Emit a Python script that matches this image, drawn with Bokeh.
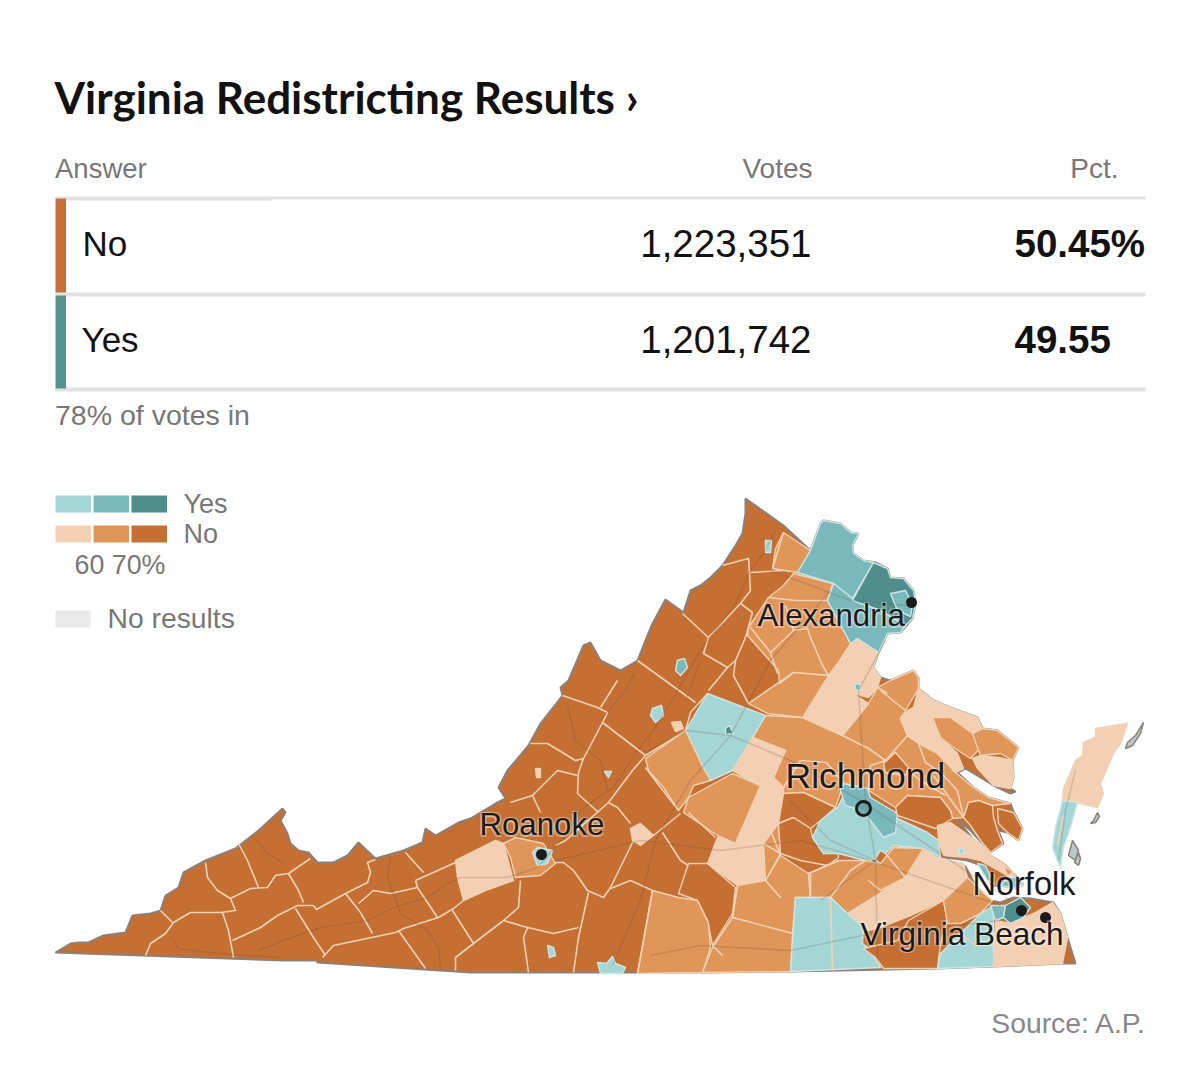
from bokeh.plotting import figure
from bokeh.models import Range1d, ColumnDataSource
from bokeh.core.properties import value
from bokeh.embed import file_html
from bokeh.resources import INLINE

# ---------- table values ----------
TITLE = "Virginia Redistricting Results ›"
ANSWERS = ["No", "Yes"]
VOTES = ["1,223,351", "1,201,742"]
PCTS = ["50.45%", "49.55"]
REPORTING = "78% of votes in"
SOURCE = "Source: A.P."

# ---------- map geometry ----------
STATE = [(55,952),(70,943),(78,942),(88,942),(103,935),(125,932),(132,915),(150,913),(160,910),(165,895),(178,887),(183,872),(205,860),(235,848),(258,830),(282,808),(285,812),(280,820),(287,833),(290,843),(298,850),(308,852),(317,862),(333,862),(347,855),(358,842),(375,858),(403,850),(422,842),(425,828),(435,835),(458,822),(470,818),(495,803),(505,798),(498,787),(507,770),(528,745),(540,723),(562,695),(560,687),(568,680),(583,645),(590,642),(600,660),(620,670),(637,660),(645,640),(652,623),(665,599),(683,612),(690,590),(700,585),(710,577),(722,565),(735,545),(742,533),(745,513),(745,498),(783,525),(810,550),(820,523),(823,520),(840,523),(850,532),(858,533),(852,545),(853,553),(863,560),(875,562),(887,568),(890,577),(903,578),(913,590),(915,603),(912,618),(900,632),(887,633),(878,652),(873,667),(880,677),(890,680),(913,670),(918,677),(918,688),(933,700),(950,707),(977,717),(982,728),(997,730),(1018,747),(1012,760),(1013,777),(1010,788),(1015,791),(1010,793),(993,785),(980,777),(965,768),(957,772),(973,787),(988,797),(1010,803),(1013,811),(1022,828),(1018,840),(1007,832),(998,830),(1003,843),(990,852),(970,830),(955,817),(972,838),(985,852),(1003,863),(1017,877),(1023,884),(1015,888),(1000,885),(992,886),(978,864),(967,860),(953,858),(927,855),(953,862),(965,866),(975,885),(990,900),(1000,902),(1013,897),(1030,898),(1053,902),(1060,913),(1067,937),(1075,963),(1062,963),(993,966),(937,968),(790,971),(702,972),(573,972),(470,972),(317,962),(316,960),(283,960)]
EASTERN_ACCOMACK = [(1062,800),(1063,788),(1075,760),(1082,755),(1083,742),(1095,737),(1095,728),(1127,723),(1120,743),(1113,753),(1100,783),(1103,793),(1097,807),(1080,803)]
EASTERN_NORTHAMPTON = [(1062,800),(1077,802),(1070,827),(1063,847),(1060,868),(1052,847),(1055,827)]
TANGIER = [(1143,722),(1135,735),(1127,742),(1125,748),(1132,745),(1140,733)]
CHINCOTEAGUE = [(1097,812),(1093,820),(1090,823),(1095,822),(1099,816)]
BARRIER_A = [(1072,840),(1068,855),(1075,860),(1078,850)]
BARRIER_B = [(1078,852),(1074,862),(1078,865),(1080,858)]

CLARKE = [(783,532),(810,550),(797,572),(772,568),(775,548)]
PIEDMONT = [(793,573),(832,583),(827,600),(850,643),(838,662),(828,675),(793,672),(748,703),(779,683),(778,670),(747,635),(748,627),(768,597),(783,585)]
STAFFORD = [(838,662),(850,643),(857,638),(878,652),(873,667),(880,677),(877,687),(868,697),(853,693),(828,675)]
SPOTSYLVANIA = [(828,675),(853,693),(868,703),(842,735),(802,717)]
ORANGE = [(748,703),(793,672),(828,675),(802,717),(767,713)]
LOUDOUN = [(810,550),(820,523),(823,520),(840,523),(850,532),(858,533),(852,545),(853,553),(863,560),(873,562),(852,598),(833,583),(797,572)]
PRINCE_WILLIAM = [(833,583),(852,598),(873,605),(905,625),(900,632),(887,633),(878,652),(857,638),(850,643),(827,600)]
FAIRFAX = [(873,562),(887,568),(890,577),(903,578),(913,590),(915,603),(912,618),(905,625),(880,610),(852,600)]
ARLINGTON = [(890,593),(905,590),(912,604),(910,616),(897,610)]
ALBEMARLE = [(707,693),(765,715),(752,737),(732,770),(710,780),(703,768),(685,730)]
NELSON = [(645,758),(685,730),(703,768),(710,780),(693,785),(688,797),(678,810),(663,787),(648,770)]
BUCKINGHAM = [(688,797),(710,785),(732,773),(760,785),(735,843),(717,835),(683,812)]
FLUVANNA = [(732,770),(752,737),(785,750),(773,777),(762,787)]
POWHATAN = [(760,787),(773,777),(783,787),(778,823),(763,843),(735,843)]
NOTTOWAY = [(717,837),(735,843),(763,843),(765,880),(737,885),(707,863)]
LUNENBURG = [(737,885),(765,880),(780,855),(808,873),(810,897),(795,897),(792,933),(732,917)]
AMELIA_EAST = [(763,843),(778,823),(780,853),(765,880)]
CHARLOTTE = [(688,863),(707,863),(735,887),(732,913),(712,945),(707,920),(697,900),(678,893)]
HALIFAX = [(652,890),(678,897),(697,900),(708,923),(710,947),(702,972),(637,973)]
MECKLENBURG = [(732,917),(792,933),(790,971),(702,972),(712,947)]
LYNCHBURG = [(630,828),(640,823),(653,835),(640,845),(632,840)]
MONTGOMERY = [(455,860),(495,840),(503,843),(513,880),(485,890),(463,900),(457,877)]
ROANOKE_CO = [(503,843),(515,837),(543,843),(555,863),(540,875),(515,877),(510,857)]
ROANOKE_CITY = [(532,852),(537,847),(552,850),(547,863),(537,865)]
MARTINSVILLE = [(547,945),(553,947),(555,955),(549,957)]
DANVILLE = [(597,962),(606,963),(612,956),(615,963),(625,967),(622,973),(600,973)]
STAUNTON = [(652,708),(661,705),(663,715),(655,722),(650,715)]
HARRISONBURG = [(677,660),(684,658),(687,667),(680,675),(675,670)]
WINCHESTER = [(765,540),(771,540),(770,552),(765,552)]
LEXINGTON = [(604,771),(611,771),(608,777)]
WAYNESBORO = [(671,722),(680,721),(683,728),(675,731)]
COVINGTON = [(535,768),(540,768),(540,777),(536,777)]
FREDERICKSBURG = [(854,683),(860,684),(859,690),(855,689)]
CHARLOTTESVILLE = [(725,728),(729,725),(733,733),(725,734)]
CENTRAL = [(842,735),(868,703),(877,687),(890,680),(913,670),(918,677),(918,688),(905,710),(900,718),(907,735),(918,743),(937,753),(955,772),(973,787),(988,797),(1010,803),(992,805),(978,800),(968,802),(963,817),(952,818),(950,810),(940,797),(907,795),(895,807),(868,790),(843,783),(835,807),(803,792),(783,793),(783,787),(773,777),(785,750),(752,737),(765,715),(802,717)]
ESSEX = [(900,718),(913,707),(918,688),(933,700),(950,707),(977,717),(982,728),(972,733),(950,717),(932,717),(940,737),(957,753),(963,768),(955,772),(937,753),(918,743),(907,735)]
RICHMOND_CO = [(932,717),(950,717),(972,733),(980,747),(970,758),(950,745),(940,737)]
NORTHUMBERLAND = [(972,733),(982,728),(997,730),(1018,747),(1012,760),(1000,753),(980,755)]
LANCASTER = [(972,758),(980,755),(998,757),(1012,760),(1013,777),(1010,788),(993,785),(977,768)]
KING_WILLIAM = [(883,763),(895,752),(908,767),(905,775),(885,772)]
GOOCHLAND = [(783,793),(803,792),(835,807),(820,820),(810,828),(793,817),(778,823)]
AMELIA = [(778,823),(793,817),(810,828),(812,837),(823,853),(837,850),(838,857),(827,865),(800,860),(780,853)]
CHESTERFIELD = [(812,837),(820,820),(837,807),(843,795),(870,797),(897,818),(927,832),(938,840),(940,857),(923,848),(893,845),(885,853),(880,850),(875,858),(865,860),(838,853),(823,853)]
HENRICO = [(840,790),(843,783),(867,788),(870,797),(897,813),(895,832),(883,837),(870,820),(862,810),(845,805)]
PETERSBURG = [(867,863),(873,858),(880,863),(877,868),(868,867)]
NEW_KENT = [(895,807),(907,795),(940,797),(950,810),(952,818),(935,828),(897,815)]
DINWIDDIE = [(808,873),(838,860),(865,860),(880,863),(893,847),(923,848),(905,877),(847,913),(830,897),(810,897)]
SUSSEX = [(847,913),(905,877),(923,848),(937,857),(963,863),(967,877),(943,900),(910,915),(880,927),(868,930),(850,920)]
BRUNSWICK = [(795,897),(830,897),(847,913),(863,927),(862,943),(867,947),(880,967),(790,971)]
SOUTHAMPTON = [(863,948),(897,940),(908,920),(943,900),(947,920),(940,943),(937,968),(883,968),(875,957)]
ISLE_OF_WIGHT = [(943,900),(967,877),(980,890),(992,900),(980,913),(960,923),(947,923)]
SUFFOLK = [(937,968),(940,953),(960,933),(980,913),(993,905),(993,966)]
VIRGINIA_BEACH = [(993,966),(995,920),(1010,923),(1033,913),(1052,902),(1060,913),(1067,937),(1062,963)]
NORFOLK = [(1005,905),(1020,897),(1030,907),(1023,917),(1010,923),(1003,917)]
PORTSMOUTH = [(990,905),(1005,905),(1003,917),(995,920)]
JAMES_CITY = [(937,825),(950,822),(980,843),(993,857),(1003,863),(1015,875),(1010,877),(980,860),(967,857),(943,855),(938,840)]
NEWPORT_NEWS = [(977,863),(985,865),(993,883),(987,880)]
YORK_SPOT = [(958,848),(963,848),(964,853),(959,853)]
YORK = [(1003,865),(1013,872),(1007,875)]
HAMPTON = [(1008,877),(1017,877),(1023,884),(1015,888),(1000,885)]
GLOUCESTER = [(968,802),(978,800),(992,805),(993,817),(997,830),(1002,843),(990,852),(980,840),(970,825),(963,817)]
MATHEWS = [(997,808),(1013,812),(1022,828),(1018,840),(1007,832),(998,823)]

REGIONS = [
    (CENTRAL,"no2"),(CLARKE,"no2"),(PIEDMONT,"no2"),(STAFFORD,"no1"),(SPOTSYLVANIA,"no1"),(ORANGE,"no2"),
    (LOUDOUN,"yes2"),(PRINCE_WILLIAM,"yes2"),(FAIRFAX,"yes3"),(ARLINGTON,"yes2"),
    (ALBEMARLE,"yes1"),(NELSON,"no2"),(BUCKINGHAM,"no2"),(FLUVANNA,"no1"),(POWHATAN,"no1"),(NOTTOWAY,"no1"),
    (LUNENBURG,"no2"),(AMELIA_EAST,"no2"),(CHARLOTTE,"no3"),(HALIFAX,"no2"),(MECKLENBURG,"no2"),(LYNCHBURG,"no1"),
    (MONTGOMERY,"no1"),(ROANOKE_CO,"no2"),(ROANOKE_CITY,"yes1"),(MARTINSVILLE,"yes1"),(DANVILLE,"yes1"),
    (STAUNTON,"yes1"),(HARRISONBURG,"yes2"),(WINCHESTER,"yes1"),(LEXINGTON,"yes1"),(WAYNESBORO,"no1"),(COVINGTON,"no1"),
    (FREDERICKSBURG,"yes2"),(CHARLOTTESVILLE,"yes3"),(ESSEX,"no1"),(RICHMOND_CO,"no2"),(NORTHUMBERLAND,"no2"),(LANCASTER,"no1"),
    (KING_WILLIAM,"no3"),(GOOCHLAND,"no3"),(AMELIA,"no3"),(CHESTERFIELD,"yes1"),(HENRICO,"yes2"),(PETERSBURG,"yes3"),
    (NEW_KENT,"no3"),(DINWIDDIE,"no2"),(SUSSEX,"no1"),(BRUNSWICK,"yes1"),(SOUTHAMPTON,"no3"),(ISLE_OF_WIGHT,"no2"),
    (SUFFOLK,"yes1"),(VIRGINIA_BEACH,"no1"),(PORTSMOUTH,"yes2"),(NORFOLK,"yes3"),(JAMES_CITY,"no1"),(NEWPORT_NEWS,"yes2"),(YORK_SPOT,"yes1"),
    (YORK,"no2"),(HAMPTON,"yes2"),(GLOUCESTER,"no3"),(MATHEWS,"no3"),(EASTERN_ACCOMACK,"no1"),(EASTERN_NORTHAMPTON,"yes1"),
]

COUNTY_LINES = [
 [(238,843),(247,860),(258,887)],
 [(310,858),(288,873),(275,875),(267,887),(250,888),(230,898),(235,910),(220,912),(190,912),(173,922),(165,933),(150,943),(145,955)],
 [(205,862),(207,877),(217,890),(230,898)],[(160,910),(172,922)],[(222,912),(228,930),(233,957)],
 [(288,873),(298,890),(303,902)],
 [(232,940),(260,927),(277,915),(297,905),(313,905),(316,909),(345,893),(367,882),(370,872),(367,862),(375,859)],
 [(295,908),(313,937),(325,955)],
 [(322,957),(333,945),(395,932),(403,928),(438,917),(453,908),(463,900)],
 [(345,893),(360,912),(372,933)],[(358,903),(373,890),(390,893),(417,887),(437,917)],
 [(405,852),(423,872)],[(415,880),(417,887)],[(415,880),(455,862)],[(398,930),(425,968)],[(452,910),(473,943),(455,957),(455,970)],
 [(473,943),(503,920),(518,907),(520,880)],[(503,920),(527,927),(523,937),(528,972)],[(527,927),(553,933),(578,927)],
 [(555,862),(563,862),(573,870),(587,890),(603,897),(610,887),(633,840)],[(588,892),(578,937),(573,972)],
 [(610,888),(630,880),(652,890)],[(653,835),(680,813)],[(662,832),(680,860),(688,865)],[(688,812),(715,837)],
 [(555,845),(565,840),(608,802),(617,807),(630,823)],[(608,802),(632,770),(645,755)],[(645,767),(660,787),(678,810)],
 [(602,722),(645,755)],[(602,722),(583,758),(578,772),(577,793),(598,812)],
 [(583,758),(575,760),(547,743),(530,743)],[(577,775),(557,770),(532,795),(510,802)],[(532,795),(540,812)],
 [(562,695),(597,707),(607,712),(602,722)],[(600,707),(617,680)],[(637,660),(695,702)],
 [(682,613),(708,637),(703,653),(727,667),(708,690)],[(722,565),(748,558),(750,590),(740,603),(708,637)],[(740,603),(752,612)],
 [(750,572),(783,570)],[(783,532),(772,568)],[(745,637),(735,660),(727,667)],[(735,660),(733,675),(748,703)],
 [(645,755),(685,730),(690,712),(707,693)],[(752,612),(745,637)],
 [(750,627),(770,652),(793,630),(807,628),(810,637),(822,665),(828,675)],[(770,652),(777,673)],[(793,672),(779,683)],
 [(768,597),(795,600),(827,600)],[(793,630),(785,605)],
 [(857,700),(842,735)],[(826,762),(843,783)],[(842,735),(868,748),(885,760)],[(907,735),(885,760),(870,765),(868,790)],[(826,762),(800,760),(783,787)],
 [(908,770),(920,780),(945,795)],[(918,743),(925,762),(940,772),(957,790),(963,817)],[(887,693),(877,687)],[(913,707),(907,710),(900,718)],
 [(880,690),(905,710)],[(933,775),(963,817)],
 [(780,855),(770,830)],[(763,843),(780,853)],[(808,873),(838,860)],[(810,897),(810,873)],[(830,897),(850,870),(865,860)],[(885,853),(905,877)],[(868,880),(880,890),(905,877)],[(905,877),(925,885),(943,900)],
 [(830,897),(832,970)],[(780,897),(765,880)],[(732,917),(737,885)],[(652,890),(637,973)],[(712,945),(722,955)],[(1015,920),(1013,963)],[(1040,915),(1037,963)],[(960,933),(975,945),(993,945)],
 [(1073,770),(1090,800)],[(1063,815),(1057,845)],
]

ROADS = [
 [(258,950),(283,940),(317,928),(367,920),(393,907),(427,897),(447,883),(460,877),(507,877),(537,867),(563,837),(583,807),(613,787),(637,750),(653,730),(673,697),(700,650),(735,603),(750,570),(763,553),(775,530)],
 [(645,752),(685,730),(730,735),(790,760),(860,800),(950,860),(1010,900)],
 [(885,640),(858,690),(865,800),(875,860),(877,960)],
 [(555,860),(640,840),(720,850),(800,840),(870,860),(1000,905)],
 [(650,955),(700,945),(790,950),(862,935),(1000,920)],
 [(770,570),(850,600),(905,605)],
 [(612,965),(640,900),(655,840),(690,780),(730,735),(770,660),(830,590)],
 [(390,857),(387,877),(400,913),(427,930),(438,947),(440,970)],
 [(255,838),(267,853),(283,863)],[(172,937),(177,948),(217,953),(280,957)],
 [(567,705),(575,740),(600,760),(607,790)],[(634,672),(625,690),(600,720)],[(700,660),(685,700)],
 [(1075,770),(1065,810),(1058,860)],[(790,800),(830,840),(875,860)],[(820,900),(840,885),(875,860)],
]

CITIES = ["Alexandria", "Richmond", "Roanoke", "Norfolk", "Virginia Beach"]
CITY_DOTS = [(911,602),(541,854),(1021,910),(1045,917)]
CITY_RING = (863,808)
CITY_ANCHORS = [(757,627),(785,789),(479,836),(972,896),(860,945)]
CITY_SIZES = [31.2,35.5,31.2,32.5,31.6]

BIN_COLORS = {"yes1":"#a5d6d6","yes2":"#79b8bb","yes3":"#4f8e8c","no1":"#f3cfb3","no2":"#e09559","no3":"#c56f33"}
LEGEND_ROWS = [("Yes",["yes1","yes2","yes3"]),("No",["no1","no2","no3"])]
LEGEND_TICKS = "60 70%"
NO_RESULTS = "No results"

GRAY_TEXT, INK = "#777777", "#121212"
RULE, COAST, BOUND, ROAD = "#e2e2e2", "#8c8078", "#f1d2b4", "#6b4a35"
TEAL_BOUND = "#cde6e5"
SANS = "Liberation Sans"
TITLE_FONT = "Lato"

p = figure(width=1184, height=1053, x_range=Range1d(0,1184), y_range=Range1d(1053,0),
           output_backend="svg", toolbar_location=None, min_border=0)
p.axis.visible = False; p.grid.visible = False; p.outline_line_color = None

def text(x, y, s, size, color=GRAY_TEXT, font=SANS, style="normal", align="left", alpha=1.0):
    # y is the intended baseline; Bokeh's SVG output sits about 0.37 em lower
    p.text([x],[y-0.37*size],[s],text_font=value(font),text_font_size=f"{size}px",text_color=color,text_alpha=alpha,
           text_font_style=style,text_align=align,text_baseline="alphabetic")

# Header and table
text(54,113,TITLE,44,INK,TITLE_FONT,"bold")
text(54.5,178,"Answer",27.5); text(812,178,"Votes",28,align="right"); text(1118,178,"Pct.",28,align="right")
p.quad(left=[55,55,55],right=[1145]*3,top=[196,292,387],bottom=[199,296,391],fill_color=RULE,line_color=None)
p.quad(left=[65],right=[271],top=[197],bottom=[200],fill_color=RULE,line_color=None)
p.quad(left=[55,55],right=[65.5,65.5],top=[198,295],bottom=[292,388],fill_color=["#c8703a","#55938f"],line_color=None)
for i,(a,v,c) in enumerate(zip(ANSWERS,VOTES,PCTS)):
    base = 256 + i*96
    text(82-i,base,a,35,INK)
    text(811,base+1,v,38.5,INK,align="right")
    text(1014,base+1,c,38.5,INK,style="bold")
text(54.5,425,REPORTING,28.5)

# Legend
for r,(label,bins) in enumerate(LEGEND_ROWS):
    for c,b in enumerate(bins):
        p.quad(left=[55+c*38],right=[90.5+c*38],top=[495+r*30],bottom=[512+r*30],fill_color=BIN_COLORS[b],line_color=None)
    text(183,513+r*30,label,27)
text(74,574,LEGEND_TICKS,26.8)
p.quad(left=[55],right=[90],top=[610],bottom=[627],fill_color="#eaeaea",line_color=None)
text(107,628,NO_RESULTS,28.3)

# Map
def unzip(poly): return [q[0] for q in poly],[q[1] for q in poly]
sx,sy = unzip(STATE)
p.patch(sx,sy,fill_color=BIN_COLORS["no3"],line_color=COAST,line_width=2)
p.patches([unzip(g)[0] for g in (TANGIER,CHINCOTEAGUE,BARRIER_A,BARRIER_B)],[unzip(g)[1] for g in (TANGIER,CHINCOTEAGUE,BARRIER_A,BARRIER_B)],
          fill_color="#b8c9c9",line_color=COAST,line_width=1.5)
src = ColumnDataSource(dict(xs=[unzip(r[0])[0] for r in REGIONS],ys=[unzip(r[0])[1] for r in REGIONS],
                            c=[BIN_COLORS[r[1]] for r in REGIONS],
                            lc=[TEAL_BOUND if r[1].startswith("yes") else BOUND for r in REGIONS]))
p.patches("xs","ys",source=src,fill_color="c",line_color="lc",line_width=1.4,line_join="round")
p.multi_line([unzip(l)[0] for l in COUNTY_LINES],[unzip(l)[1] for l in COUNTY_LINES],line_color=BOUND,line_width=1.6,line_join="round")
p.multi_line([unzip(l)[0] for l in ROADS],[unzip(l)[1] for l in ROADS],line_color=ROAD,line_alpha=0.2,line_width=1.6,line_join="round")

p.scatter([d[0] for d in CITY_DOTS],[d[1] for d in CITY_DOTS],size=11,marker="circle",fill_color="#1a1a1a",line_color=None)
p.scatter([CITY_RING[0]],[CITY_RING[1]],size=14,marker="circle",fill_color="#5f9a9c",fill_alpha=0.7,line_color="#1a1a1a",line_width=3)
for name,(x,y),s in zip(CITIES,CITY_ANCHORS,CITY_SIZES):
    for dx,dy in ((-1.5,-1.5),(1.5,-1.5),(-1.5,1.5),(1.5,1.5)):
        text(x+dx,y+dy,name,s,"#ffffff",alpha=0.3)
    text(x,y,name,s,"#1a1a1a")

text(1146,1033,SOURCE,28.3,"#888888",align="right")

open("out.html","w").write(file_html(p,INLINE))
